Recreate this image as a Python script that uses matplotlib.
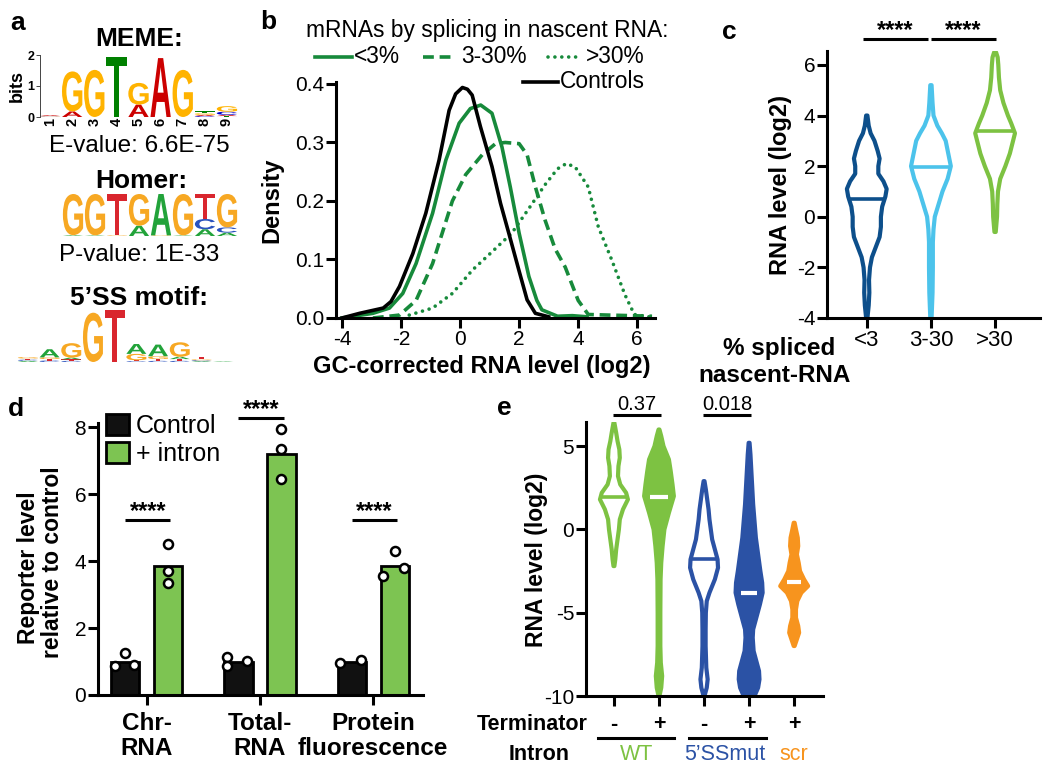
import numpy as np
import matplotlib
matplotlib.use('Agg')
import matplotlib.pyplot as plt
import matplotlib.transforms as mtransforms
from matplotlib.textpath import TextPath
from matplotlib.patches import PathPatch
from matplotlib.font_manager import FontProperties
from matplotlib.lines import Line2D

plt.rcParams['font.family'] = ['Liberation Sans', 'DejaVu Sans']
plt.rcParams['axes.unicode_minus'] = False
plt.rcParams['axes.linewidth'] = 2.2
for ax_ in ('xtick', 'ytick'):
    plt.rcParams[ax_ + '.major.width'] = 2.2
    plt.rcParams[ax_ + '.major.size'] = 7
    plt.rcParams[ax_ + '.major.pad'] = 1.5
    plt.rcParams[ax_ + '.labelsize'] = 15

W, H = 1050, 773

# ---------------- data ----------------
# a: motif logos, bits per letter at each position
MEME_LOGO = [
    {'A': 0.03, 'C': 0.01, 'G': 0.01, 'T': 0.01},
    {'A': 0.18, 'G': 1.29},
    {'G': 1.52},
    {'T': 1.95},
    {'A': 0.40, 'G': 0.70},
    {'A': 1.90},
    {'G': 1.52},
    {'C': 0.03, 'A': 0.04, 'G': 0.05, 'T': 0.06},
    {'A': 0.04, 'T': 0.03, 'C': 0.10, 'G': 0.18},
]
HOMER_LOGO = [
    {'A': 0.04, 'G': 1.96},
    {'A': 0.03, 'G': 1.97},
    {'G': 0.03, 'T': 1.97},
    {'A': 0.49, 'G': 1.51},
    {'G': 0.03, 'A': 1.97},
    {'A': 0.03, 'G': 1.97},
    {'A': 0.32, 'C': 0.49, 'T': 1.19},
    {'A': 0.16, 'C': 0.25, 'G': 1.59},
]
SS5_LOGO = [
    {'A': 0.04, 'C': 0.04, 'G': 0.05, 'T': 0.04},
    {'C': 0.05, 'T': 0.05, 'G': 0.06, 'A': 0.28},
    {'C': 0.04, 'T': 0.05, 'A': 0.06, 'G': 0.50},
    {'G': 1.70},
    {'T': 1.80},
    {'C': 0.03, 'T': 0.03, 'G': 0.22, 'A': 0.34},
    {'C': 0.04, 'T': 0.06, 'G': 0.10, 'A': 0.40},
    {'C': 0.04, 'T': 0.06, 'A': 0.08, 'G': 0.50},
    {'A': 0.03, 'C': 0.03, 'G': 0.03, 'T': 0.08},
    {'A': 0.02},
]
MEME_COLORS = {'A': '#cc0000', 'C': '#0000cc', 'G': '#ffb300', 'T': '#008000'}
HOMER_COLORS = {'A': '#22a33a', 'C': '#2a52be', 'G': '#f7a823', 'T': '#d9262e'}

# b: density of GC-corrected RNA level
CTRL_X = [-4, -3.4, -2.6, -2.34, -2.05, -1.6, -1.16, -0.71, -0.37, -0.15, 0.08, 0.25, 0.41, 0.69, 1.08, 1.37, 1.65, 1.99, 2.27, 2.55, 3.0]
CTRL_Y = [0.0, 0.008, 0.017, 0.028, 0.054, 0.11, 0.179, 0.27, 0.355, 0.383, 0.394, 0.391, 0.381, 0.327, 0.259, 0.196, 0.145, 0.082, 0.031, 0.008, 0.002]
LOW_X = [-4, -2.95, -2.39, -1.94, -1.49, -0.93, -0.48, -0.03, 0.35, 0.70, 1.08, 1.42, 1.7, 2.0, 2.33, 2.6, 2.77, 3.3, 3.8, 4.3]
LOW_Y = [0.0, 0.008, 0.017, 0.042, 0.093, 0.179, 0.27, 0.333, 0.358, 0.364, 0.35, 0.292, 0.224, 0.145, 0.071, 0.03, 0.014, 0.003, 0.004, 0.002]
MID_X = [-2.95, -2.05, -1.49, -0.93, -0.26, 0.19, 0.75, 1.2, 1.53, 2.0, 2.27, 2.55, 2.88, 3.22, 3.56, 4.0, 4.34, 5.0, 5.8, 6.5]
MID_Y = [0.0, 0.005, 0.03, 0.093, 0.20, 0.245, 0.279, 0.298, 0.30, 0.298, 0.279, 0.224, 0.167, 0.118, 0.087, 0.03, 0.006, 0.005, 0.004, 0.003]
HIGH_X = [-1.72, -0.93, -0.26, 0.42, 1.08, 1.75, 2.3, 2.88, 3.3, 3.6, 3.9, 4.34, 4.68, 5.13, 5.58, 5.9, 6.4]
HIGH_Y = [0.005, 0.017, 0.042, 0.082, 0.113, 0.145, 0.185, 0.228, 0.255, 0.264, 0.258, 0.224, 0.156, 0.10, 0.04, 0.006, 0.002]

# c: RNA level by % spliced nascent RNA (violin outlines: level, half width)
C_GROUPS = ['<3', '3-30', '>30']
C_MEDIANS = [0.7, 1.98, 3.4]
C1_Y = [-4, -3.5, -3, -2.5, -2, -1.6, -1.2, -0.8, -0.4, 0, 0.4, 0.8, 1.1, 1.4, 1.7, 2.0, 2.3, 2.6, 3.0, 3.3, 3.6, 4.0]
C1_W = [0.01, 0.03, 0.04, 0.035, 0.05, 0.08, 0.14, 0.2, 0.22, 0.22, 0.24, 0.29, 0.31, 0.26, 0.18, 0.18, 0.2, 0.17, 0.12, 0.06, 0.03, 0.01]
C2_Y = [-4, -3, -2, -1, -0.5, 0, 0.5, 1, 1.5, 2, 2.5, 3, 3.3, 3.6, 4, 4.5, 5.2]
C2_W = [0.01, 0.025, 0.03, 0.03, 0.04, 0.06, 0.12, 0.18, 0.26, 0.31, 0.27, 0.23, 0.17, 0.1, 0.04, 0.025, 0.01]
C3_Y = [-0.6, 0, 0.5, 1, 1.5, 2, 2.5, 2.9, 3.3, 3.7, 4.0, 4.5, 5, 5.5, 6, 6.3, 6.5]
C3_W = [0.01, 0.03, 0.035, 0.045, 0.08, 0.16, 0.23, 0.27, 0.31, 0.25, 0.2, 0.13, 0.08, 0.06, 0.05, 0.04, 0.015]
C_SIG = [(-0.06, 0.95, '****'), (1.0, 2.02, '****')]

# d: reporter level relative to control
D_GROUPS = ['Chr-\nRNA', 'Total-\nRNA', 'Protein\nfluorescence']
D_CTRL = [1.0, 1.0, 1.0]
D_INTRON = [3.85, 7.2, 3.85]
D_CTRL_PTS = [[0.87, 1.24, 0.9], [1.14, 0.87, 1.01], [0.97, 1.04]]
D_CTRL_JIT = [[-0.09, 0.0, 0.08], [-0.1, -0.1, 0.08], [-0.1, 0.08]]
D_INTRON_PTS = [[4.5, 3.7, 3.33], [7.94, 7.34, 6.45], [4.31, 3.55, 3.78]]
D_INTRON_JIT = [[0.0, 0.0, 0.0], [0.0, 0.0, 0.0], [0.0, -0.1, 0.08]]
D_SIG = [5.22, 8.27, 5.22]

# e: RNA level of reporters (violin outlines: level, half width)
E_TERM = ['-', '+', '-', '+', '+']
E_MEDIANS = [1.94, 1.94, -1.8, -3.8, -3.16]
E1_Y = [-2.2, -1.8, -1.2, -0.6, 0, 0.6, 1.2, 1.8, 2.2, 2.7, 3.2, 3.8, 4.3, 4.8, 5.3, 5.8, 6.4]
E1_W = [0.01, 0.03, 0.05, 0.08, 0.11, 0.13, 0.2, 0.31, 0.27, 0.14, 0.09, 0.1, 0.13, 0.12, 0.08, 0.05, 0.01]
E2_Y = [-10, -9.5, -8.8, -8, -7, -5, -3, -2, -1, 0, 1, 2, 2.7, 3.5, 4.2, 5, 5.6, 6.0]
E2_W = [0.01, 0.05, 0.07, 0.04, 0.03, 0.03, 0.035, 0.05, 0.08, 0.12, 0.22, 0.33, 0.3, 0.26, 0.22, 0.1, 0.05, 0.01]
E3_Y = [-10, -9.5, -9, -8.3, -7, -6, -5, -4.3, -3.8, -3, -2.3, -1.8, -1.2, -0.6, 0, 0.6, 1.2, 1.8, 2.4, 2.9]
E3_W = [0.01, 0.06, 0.08, 0.05, 0.035, 0.035, 0.04, 0.06, 0.12, 0.24, 0.31, 0.3, 0.24, 0.18, 0.15, 0.12, 0.1, 0.07, 0.04, 0.01]
E4_Y = [-10, -9.5, -9, -8.5, -8, -7.3, -6.5, -6, -5.3, -4.5, -3.8, -3.2, -2.5, -1.5, -0.5, 0.5, 1.5, 2.5, 3.5, 4.5, 5.2]
E4_W = [0.12, 0.2, 0.23, 0.22, 0.17, 0.1, 0.08, 0.09, 0.16, 0.24, 0.3, 0.29, 0.25, 0.2, 0.15, 0.12, 0.09, 0.07, 0.05, 0.03, 0.01]
E5_Y = [-7, -6.6, -6.2, -5.8, -5.3, -4.8, -4.3, -3.8, -3.4, -3.0, -2.5, -2, -1.5, -1, -0.5, 0, 0.4]
E5_W = [0.01, 0.06, 0.11, 0.09, 0.04, 0.04, 0.07, 0.16, 0.31, 0.22, 0.13, 0.1, 0.06, 0.09, 0.08, 0.04, 0.01]
E_PVAL = [(-0.02, 1.04, '0.37'), (1.98, 3.04, '0.018')]

GREEN_B = '#178a3b'
DARK_BLUE = '#0d4f8b'
LIGHT_BLUE = '#4cc3eb'
LIGHT_GREEN = '#7dc242'
BLUE = '#2b52a5'
ORANGE = '#f7941e'


def rect(left, top, right, bottom):
    return [left / W, 1 - bottom / H, (right - left) / W, (bottom - top) / H]


def ftext(x, y, s, **kw):
    fig.text(x / W, 1 - y / H, s, **kw)


def fline(x0, x1, y, **kw):
    fig.add_artist(Line2D([x0 / W, x1 / W], [1 - y / H, 1 - y / H], **kw))


LOGO_FONT = FontProperties(family='Liberation Sans', weight='bold')


def draw_logo(ax, columns, colors, width=0.92):
    for i, col in enumerate(columns):
        base = 0.0
        for letter, h in sorted(col.items(), key=lambda kv: kv[1]):
            tp = TextPath((0, 0), letter, size=1, prop=LOGO_FONT)
            bb = tp.get_extents()
            tr = (mtransforms.Affine2D()
                  .translate(-bb.x0, -bb.y0)
                  .scale(width / bb.width, h / bb.height)
                  .translate(i + 1 - width / 2, base))
            ax.add_patch(PathPatch(tr.transform_path(tp), fc=colors[letter], ec='none'))
            base += h
    ax.set_xlim(0.5, len(columns) + 0.5)
    ax.set_ylim(0, 2)


def violin(ax, pos, ys, ws, median, color, filled):
    ys = np.asarray(ys, float)
    ws = np.asarray(ws, float)
    xs = np.concatenate([pos + ws, (pos - ws)[::-1]])
    yy = np.concatenate([ys, ys[::-1]])
    ax.fill(xs, yy, facecolor=color if filled else 'white', edgecolor=color,
            lw=3, joinstyle='round')
    m = np.interp(median, ys, ws)
    if filled:
        ax.plot([pos - 0.6 * m, pos + 0.6 * m], [median, median], color='white', lw=3,
                solid_capstyle='butt')
    else:
        ax.plot([pos - m, pos + m], [median, median], color=color, lw=2.6,
                solid_capstyle='butt')


def clean(ax):
    ax.spines['top'].set_visible(False)
    ax.spines['right'].set_visible(False)


fig = plt.figure(figsize=(W / 100, H / 100), dpi=100)

# ---------------- a ----------------
ax_meme = fig.add_axes(rect(39, 55, 238, 117))
draw_logo(ax_meme, MEME_LOGO, MEME_COLORS)
for s in ('top', 'right', 'bottom'):
    ax_meme.spines[s].set_visible(False)
ax_meme.spines['left'].set_linewidth(0.7)
ax_meme.spines['left'].set_color('#444444')
ax_meme.spines['left'].set_position(('data', 0.55))
ax_meme.set_yticks([0, 1, 2])
ax_meme.tick_params(axis='y', labelsize=9, width=0.7, length=3, pad=1, color='#444444')
ax_meme.set_xticks(range(1, 10))
ax_meme.set_xticklabels([str(i) for i in range(1, 10)], rotation=90, fontsize=10.5,
                        fontweight='bold')
ax_meme.tick_params(axis='x', length=0, pad=0.5)
for lab in ax_meme.get_yticklabels():
    lab.set_fontweight('bold')
ax_meme.set_ylabel('bits', fontsize=13, fontweight='bold', labelpad=1)

ax_homer = fig.add_axes(rect(62, 194, 238, 236))
draw_logo(ax_homer, HOMER_LOGO, HOMER_COLORS)
ax_homer.axis('off')

ax_ss = fig.add_axes(rect(17, 304, 234, 362))
draw_logo(ax_ss, SS5_LOGO, HOMER_COLORS)
ax_ss.axis('off')

ftext(139, 46, 'MEME:', fontsize=19, fontweight='bold', ha='center', va='baseline')
ftext(139, 152, 'E-value: 6.6E-75', fontsize=17.5, ha='center', va='baseline')
ftext(141, 188, 'Homer:', fontsize=19, fontweight='bold', ha='center', va='baseline')
ftext(139, 261, 'P-value: 1E-33', fontsize=17.5, ha='center', va='baseline')
ftext(139, 305, '5\u2019SS motif:', fontsize=19, fontweight='bold', ha='center', va='baseline')

# ---------------- b ----------------
axb = fig.add_axes(rect(336, 82, 655, 318))
style_low = dict(color=GREEN_B, lw=2.6)
style_mid = dict(color=GREEN_B, lw=2.6, ls=(0, (3, 1.6)))
style_high = dict(color=GREEN_B, lw=2.6, ls=(0, (0.01, 1.9)), dash_capstyle='round')
style_ctrl = dict(color='black', lw=2.6)
axb.plot(HIGH_X, HIGH_Y, **style_high)
axb.plot(MID_X, MID_Y, **style_mid)
axb.plot(LOW_X, LOW_Y, **style_low)
axb.plot(CTRL_X, CTRL_Y, **style_ctrl)
clean(axb)
axb.set_xlim(-4.2, 6.6)
axb.set_ylim(0, 0.4034)
axb.set_xticks([-4, -2, 0, 2, 4, 6])
axb.set_yticks([0, 0.1, 0.2, 0.3, 0.4])
axb.set_yticklabels(['0.0', '0.1', '0.2', '0.3', '0.4'])
ftext(272, 200, 'Density', fontsize=17, fontweight='bold', rotation=90, ha='center', va='center')
ftext(482, 373, 'GC-corrected RNA level (log2)', fontsize=17, fontweight='bold',
      ha='center', va='baseline')
ftext(306, 37, 'mRNAs by splicing in nascent RNA:', fontsize=16.4, va='baseline')
for (x0, x1, tx, lab, st) in [(315, 352, 354, '<3%', style_low),
                              (423, 455, 461, '3-30%', style_mid),
                              (548, 580, 586, '>30%', style_high),
                              (523, 558, 560, 'Controls', style_ctrl)]:
    yy = 82 if lab == 'Controls' else 57
    fline(x0, x1, yy, **st)
    ftext(tx, yy + 6, lab, fontsize=16.4, va='baseline')

# ---------------- c ----------------
axc = fig.add_axes(rect(827, 51, 1040, 318))
violin(axc, 0, C1_Y, C1_W, C_MEDIANS[0], DARK_BLUE, False)
violin(axc, 1, C2_Y, C2_W, C_MEDIANS[1], LIGHT_BLUE, False)
violin(axc, 2, C3_Y, C3_W, C_MEDIANS[2], LIGHT_GREEN, False)
clean(axc)
axc.set_xlim(-0.62, 2.7)
axc.set_ylim(-4, 6.55)
axc.set_yticks([-4, -2, 0, 2, 4, 6])
axc.set_xticks(range(3))
axc.set_xticklabels(C_GROUPS, fontsize=16)
for x0, x1, s in C_SIG:
    axc.plot([x0, x1], [7.03, 7.03], color='black', lw=2.2, clip_on=False,
             solid_capstyle='butt')
    axc.annotate(s, ((x0 + x1) / 2, 7.03), xytext=(0, 1.5), textcoords='offset points',
                 ha='center', va='baseline', fontsize=17, fontweight='bold',
                 annotation_clip=False)
ftext(781, 185, 'RNA level (log2)', fontsize=17, fontweight='bold', rotation=90,
      ha='center', va='center')
ftext(779, 355, '% spliced', fontsize=17.5, fontweight='bold', ha='center', va='baseline')
ftext(775, 382, 'nascent-RNA', fontsize=17.5, fontweight='bold', ha='center', va='baseline')

# ---------------- d ----------------
axd = fig.add_axes(rect(98, 423, 423, 695))
xd = np.arange(len(D_GROUPS))
bars_c = axd.bar(xd - 0.19, D_CTRL, width=0.25, color='#111111', edgecolor='black', lw=2)
bars_i = axd.bar(xd + 0.19, D_INTRON, width=0.25, color='#7dc452', edgecolor='black', lw=2)
for i in range(len(D_GROUPS)):
    axd.plot(xd[i] - 0.19 + np.array(D_CTRL_JIT[i]), D_CTRL_PTS[i], 'o', ms=6.5, mfc='white',
             mec='black', mew=1.8, clip_on=False)
    axd.plot(xd[i] + 0.19 + np.array(D_INTRON_JIT[i]), D_INTRON_PTS[i], 'o', ms=6.5,
             mfc='white', mec='black', mew=1.8, clip_on=False)
    axd.plot([xd[i] - 0.19, xd[i] + 0.21], [D_SIG[i], D_SIG[i]], color='black', lw=2.2,
             clip_on=False, solid_capstyle='butt')
    axd.annotate('****', (xd[i] + 0.01, D_SIG[i]), xytext=(0, 1.5), textcoords='offset points',
                 ha='center', va='baseline', fontsize=17, fontweight='bold',
                 annotation_clip=False)
clean(axd)
axd.set_xlim(-0.43, 2.44)
axd.set_ylim(0, 8.12)
axd.set_yticks([0, 2, 4, 6, 8])
axd.set_xticks(xd)
axd.set_xticklabels([])
for i, g in enumerate(D_GROUPS):
    top, bot = g.split('\n')
    px = 147 + 113 * i
    ftext(px, 730, top, fontsize=17.5, fontweight='bold', ha='center', va='baseline')
    ftext(px, 755, bot, fontsize=17.5, fontweight='bold', ha='center', va='baseline')
axd.legend([bars_c, bars_i], ['Control', '+ intron'], loc='upper left',
           bbox_to_anchor=(106 / W, 1 - 414 / H), bbox_transform=fig.transFigure,
           frameon=False, fontsize=18, handlelength=0.9, handleheight=0.9,
           handletextpad=0.3, labelspacing=0.15, borderpad=0, borderaxespad=0)
ftext(28, 568, 'Reporter level', fontsize=16.5, fontweight='bold', rotation=90,
      ha='center', va='center')
ftext(53, 562, 'relative to control', fontsize=16.5, fontweight='bold', rotation=90,
      ha='center', va='center')

# ---------------- e ----------------
axe = fig.add_axes(rect(586, 422, 823, 696))
violin(axe, 0, E1_Y, E1_W, E_MEDIANS[0], LIGHT_GREEN, False)
violin(axe, 1, E2_Y, E2_W, E_MEDIANS[1], LIGHT_GREEN, True)
violin(axe, 2, E3_Y, E3_W, E_MEDIANS[2], BLUE, False)
violin(axe, 3, E4_Y, E4_W, E_MEDIANS[3], BLUE, True)
violin(axe, 4, E5_Y, E5_W, E_MEDIANS[4], ORANGE, True)
clean(axe)
axe.set_xlim(-0.62, 4.64)
axe.set_ylim(-10, 6.45)
axe.set_yticks([-10, -5, 0, 5])
axe.set_xticks(range(5))
axe.set_xticklabels([])
for x0, x1, s in E_PVAL:
    axe.plot([x0, x1], [6.86, 6.86], color='black', lw=2.2, clip_on=False,
             solid_capstyle='butt')
    axe.annotate(s, ((x0 + x1) / 2, 6.86), xytext=(0, 3.5), textcoords='offset points',
                 ha='center', va='baseline', fontsize=14.5, annotation_clip=False)
ftext(537, 560, 'RNA level (log2)', fontsize=16.5, fontweight='bold', rotation=90,
      ha='center', va='center')
ftext(588, 730, 'Terminator', fontsize=15.5, fontweight='bold', ha='right', va='baseline')
for i, t in enumerate(E_TERM):
    ftext(614 + 45 * i, 730, t, fontsize=15.5, fontweight='bold', ha='center', va='baseline')
fline(598, 674, 738, color='black', lw=2.2)
fline(689, 766, 738, color='black', lw=2.2)
ftext(570, 760, 'Intron', fontsize=15.5, fontweight='bold', ha='right', va='baseline')
ftext(637, 760, 'WT', fontsize=15.5, color=LIGHT_GREEN, ha='center', va='baseline')
ftext(725, 760, '5\u2019SSmut', fontsize=15.5, color=BLUE, ha='center', va='baseline')
ftext(794, 760, 'scr', fontsize=15.5, color=ORANGE, ha='center', va='baseline')

# panel letters
for lab, x, y in [('a', 10, 30), ('b', 260, 29), ('c', 722, 39), ('d', 8, 416), ('e', 497, 415)]:
    ftext(x, y, lab, fontsize=19, fontweight='bold', va='baseline')

fig.savefig('out.png', dpi=100)
